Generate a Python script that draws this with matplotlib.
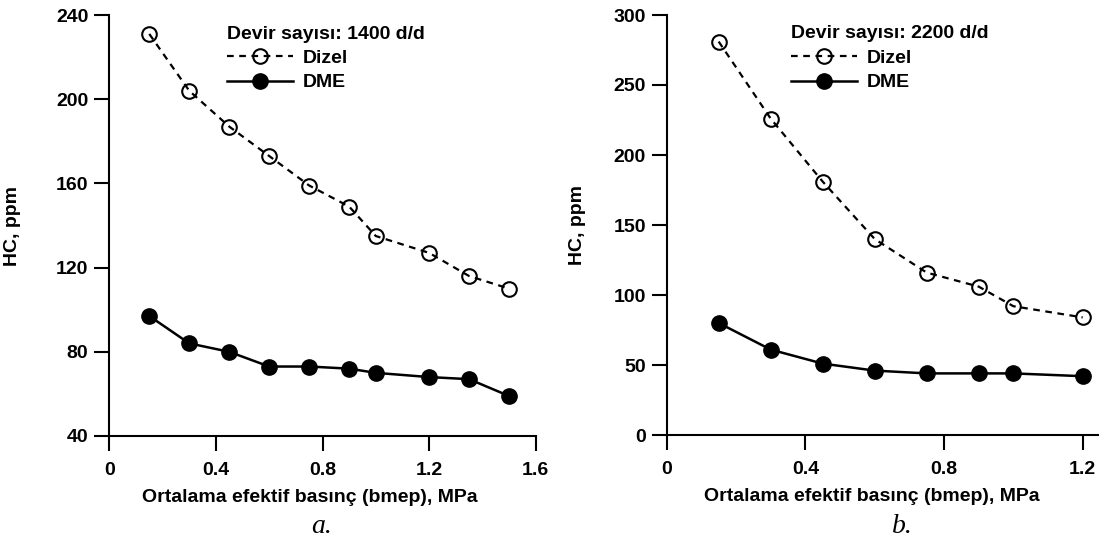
import matplotlib
matplotlib.use("Agg")
import matplotlib.pyplot as plt

plt.rcParams['font.family'] = ['Liberation Sans', 'DejaVu Sans']
plt.rcParams['font.weight'] = 'bold'
plt.rcParams['axes.labelweight'] = 'bold'
plt.rcParams['font.size'] = 14

# a. 1400 d/d
x_a = [0.15, 0.30, 0.45, 0.60, 0.75, 0.90, 1.00, 1.20, 1.35, 1.50]
dizel_a = [231, 204, 187, 173, 159, 149, 135, 127, 116, 110]
dme_a = [97, 84, 80, 73, 73, 72, 70, 68, 67, 59]

# b. 2200 d/d
x_b = [0.15, 0.30, 0.45, 0.60, 0.75, 0.90, 1.00, 1.20]
dizel_b = [281, 226, 181, 140, 116, 106, 92, 84]
dme_b = [80, 61, 51, 46, 44, 44, 44, 42]

xticks_a = [0, 0.4, 0.8, 1.2, 1.6]
xlabels_a = ['0', '0.4', '0.8', '1.2', '1.6']
yticks_a = [40, 80, 120, 160, 200, 240]
xticks_b = [0, 0.4, 0.8, 1.2]
xlabels_b = ['0', '0.4', '0.8', '1.2']
yticks_b = [0, 50, 100, 150, 200, 250, 300]

W, H = 1099, 538
fig = plt.figure(figsize=(W / 100, H / 100), dpi=100)

# axes boxes in pixels: left, top, right, bottom
ax1 = fig.add_axes([109.3 / W, (H - 436) / H, (535.7 - 109.3) / W, (436 - 15) / H])
ax2 = fig.add_axes([666.7 / W, (H - 435) / H, (1100 - 666.7) / W, (435 - 15) / H])


def draw(ax, x, dz, dm, title, xt, xl, yt, xlim, ylim, leg_x, ylab_x, xlab_x):
    ax.plot(x, dz, color='black', ls=(0, (3, 2.5)), lw=1.6, marker='o', ms=10.5,
            mfc='none', mec='black', mew=1.5, label='Dizel')
    ax.plot(x, dm, color='black', ls='-', lw=1.8, marker='o', ms=11,
            mfc='black', mec='black', label='DME')
    ax.set_xlim(*xlim)
    ax.set_ylim(*ylim)
    ax.set_xticks(xt)
    ax.set_xticklabels(xl)
    ax.set_yticks(yt)
    for s in ['top', 'right']:
        ax.spines[s].set_visible(False)
    for s in ['left', 'bottom']:
        ax.spines[s].set_linewidth(1.5)
    ax.tick_params(axis='both', direction='out', length=11, width=1.5)
    ax.tick_params(axis='x', pad=8)
    ax.tick_params(axis='y', pad=4)
    ax.set_ylabel('HC, ppm')
    ax.yaxis.set_label_coords(ylab_x, 0.5)
    ax.set_xlabel('Ortalama efektif basınç (bmep), MPa')
    ax.xaxis.set_label_coords(xlab_x, -0.127)
    leg = ax.legend(title=title, loc='upper left', bbox_to_anchor=(leg_x, 0.975),
                    frameon=False, borderpad=0, borderaxespad=0,
                    handlelength=3.4, handletextpad=0.5, labelspacing=0.35,
                    title_fontproperties={'weight': 'bold', 'size': 14})
    leg._legend_box.align = 'left'
    ax.patch.set_alpha(0)


draw(ax1, x_a, dizel_a, dme_a, 'Devir sayısı: 1400 d/d', xticks_a, xlabels_a,
     yticks_a, (0, 1.6), (40, 240), 0.276, -0.207, 0.47)
draw(ax2, x_b, dizel_b, dme_b, 'Devir sayısı: 2200 d/d', xticks_b, xlabels_b,
     yticks_b, (0, 1.25), (0, 300), 0.287, -0.186, 0.474)

for ax in (ax1, ax2):
    for sp in ax.spines.values():
        sp.set_clip_on(False)

fig.text(322 / W, 5 / H, 'a.', family='Liberation Serif', style='italic',
         weight='normal', size=20, ha='center', va='baseline')
fig.text(902 / W, 5 / H, 'b.', family='Liberation Serif', style='italic',
         weight='normal', size=20, ha='center', va='baseline')

fig.savefig('out.png', dpi=100)
